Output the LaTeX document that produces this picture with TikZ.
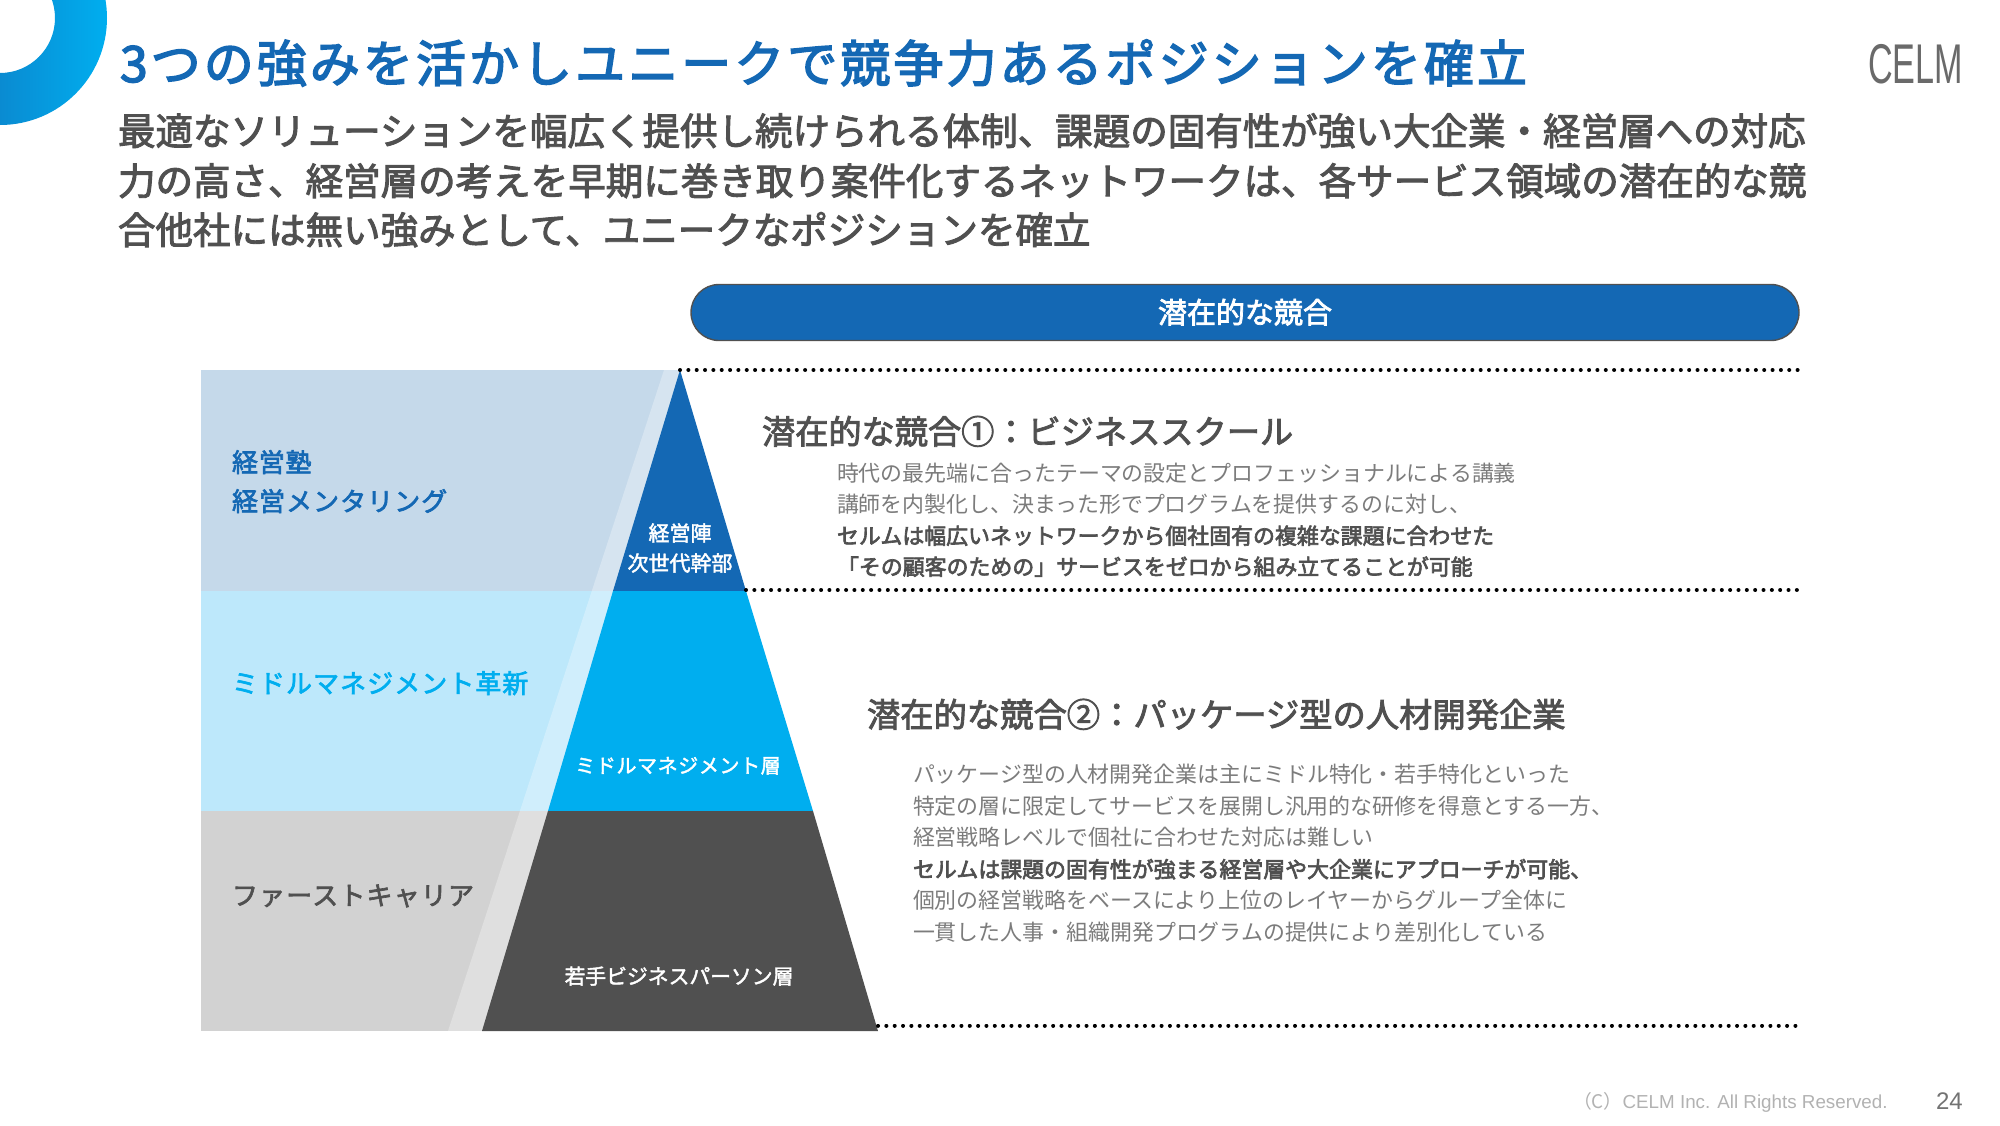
\documentclass[tikz,border=0pt]{standalone}
\usepackage{fontspec}
\setmainfont{Noto Sans CJK JP}
\newfontfamily\latinf{Liberation Sans}
\usetikzlibrary{shadings,calc}
\definecolor{cblue}{HTML}{1468B4}
\definecolor{ccyan}{HTML}{00AEEF}
\definecolor{cdark}{HTML}{505050}
\definecolor{cbandA}{HTML}{C5D9EA}
\definecolor{cbandB}{HTML}{BDE8FB}
\definecolor{cbandC}{HTML}{D2D2D2}
\definecolor{cbody}{HTML}{7C7C7C}
\newcommand{\fs}[1]{\fontsize{#1}{#1}\selectfont}
\tikzset{x=0.5pt,y=-0.5pt,
 txt/.style={inner sep=0pt,outer sep=0pt,anchor=base west,text depth=0pt},
 ctr/.style={inner sep=0pt,outer sep=0pt,anchor=base,align=center},
 dotline/.style={black,line width=2pt,dash pattern=on 0.01pt off 4.16pt,line cap=round}}
\begin{document}
\begin{tikzpicture}
\useasboundingbox (0,0) rectangle (2000,1125);
\fill[white] (0,0) rectangle (2000,1125);
% ring
\begin{scope}
\clip (0,0) rectangle (120,130);
\shade[even odd rule,left color=cblue,right color=ccyan]
 (0,18) circle[radius=53.5pt] (0,18) circle[radius=27.5pt];
\end{scope}
% bands
\fill[cbandA] (201,370) rectangle (680,591);
\fill[cbandB] (201,591) rectangle (680,811);
\fill[cbandC] (201,811) rectangle (680,1031);
% pale stripe
\fill[white,opacity=.3] (664,370) -- (680,370) -- (482,1031) -- (448,1031) -- cycle;
% pyramid
\coordinate (apex) at (680,370);
\fill[cblue] (apex) -- (746,591) -- (613,591) -- cycle;
\fill[ccyan] (613,591) -- (746,591) -- (813,811) -- (548,811) -- cycle;
\fill[cdark] (548,811) -- (813,811) -- (878,1031) -- (482,1031) -- cycle;
% dotted
\coordinate (d1a) at (680,370); \coordinate (d1b) at (1800,370);
\coordinate (d2a) at (746,590); \coordinate (d2b) at (1800,590);
\coordinate (d3a) at (878,1025.5); \coordinate (d3b) at (1802,1025.5);
\draw[dotline] (d1a) -- (d1b);
\draw[dotline] (d2a) -- (d2b);
\draw[dotline] (d3a) -- (d3b);
% pill
\node[draw=cdark,line width=.7pt,fill=cblue,rounded corners=14pt,minimum width=554pt,minimum height=28pt,inner sep=0pt,text=white] (pill) at (1245,312.5) {\raisebox{1.5pt}{\fs{14.5}\addfontfeature{FakeBold=2.5}潜在的な競合}};
% title
\node[txt,text=cblue] (title) at (120,82) {\fs{25}\addfontfeature{LetterSpace=6.1,FakeBold=3}3つの強みを活かしユニークで競争力あるポジションを確立};
\node[txt,text=cdark] (l1) at (118,145) {\fs{18.76}\addfontfeature{FakeBold=2.5}最適なソリューションを幅広く提供し続けられる体制、課題の固有性が強い大企業・経営層への対応};
\node[txt,text=cdark] (l2) at (118,195) {\fs{18.76}\addfontfeature{FakeBold=2.5}力の高さ、経営層の考えを早期に巻き取り案件化するネットワークは、各サービス領域の潜在的な競};
\node[txt,text=cdark] (l3) at (118,244) {\fs{18.76}\addfontfeature{FakeBold=2.5}合他社には無い強みとして、ユニークなポジションを確立};
% logo
\node[txt,text=cdark!85] (logo) at (1868,83) {\scalebox{0.61}[1]{\latinf\fs{28}CELM}};
% left labels
\node[txt,text=cblue] (a1) at (232,472) {\fs{13}\addfontfeature{LetterSpace=3,FakeBold=2.5}経営塾};
\node[txt,text=cblue] (a2) at (232,511) {\fs{13}\addfontfeature{LetterSpace=4,FakeBold=2.5}経営メンタリング};
\node[txt,text=ccyan] (b1) at (232,693) {\fs{13}\addfontfeature{LetterSpace=4,FakeBold=2.5}ミドルマネジメント革新};
\node[txt,text=cdark] (c1) at (232,905) {\fs{13}\addfontfeature{LetterSpace=4.5,FakeBold=2.5}ファーストキャリア};
% pyramid labels
\node[ctr,text=white] (p1) at (680,541) {\fs{10.5}\addfontfeature{FakeBold=2}経営陣};
\node[ctr,text=white] (p2) at (680,571) {\fs{10.5}\addfontfeature{FakeBold=2}次世代幹部};
\node[ctr,text=white] (p3) at (678,773) {\fs{10}\addfontfeature{LetterSpace=3,FakeBold=2}ミドルマネジメント層};
\node[ctr,text=white] (p4) at (679,984) {\fs{10.4}\addfontfeature{FakeBold=2}若手ビジネスパーソン層};
% section 1
\node[txt,text=cdark] (s1) at (762,444) {\fs{16.6}\addfontfeature{FakeBold=2.5}潜在的な競合①：ビジネススクール};
\node[txt,text=cbody] (s1a) at (837,481) {\fs{10.96}時代の最先端に合ったテーマの設定とプロフェッショナルによる講義};
\node[txt,text=cbody] (s1b) at (837,512.5) {\fs{10.96}講師を内製化し、決まった形でプログラムを提供するのに対し、};
\node[txt,text=cdark] (s1c) at (837,544) {\fs{10.96}\addfontfeature{FakeBold=3}セルムは幅広いネットワークから個社固有の複雑な課題に合わせた};
\node[txt,text=cdark] (s1d) at (837,575) {\fs{10.96}\addfontfeature{FakeBold=3}「その顧客のための」サービスをゼロから組み立てることが可能};
% section 2
\node[txt,text=cdark] (s2) at (867,727) {\fs{16.65}\addfontfeature{FakeBold=2.5}潜在的な競合②：パッケージ型の人材開発企業};
\node[txt,text=cbody] (s2a) at (913,782.5) {\fs{10.96}パッケージ型の人材開発企業は主にミドル特化・若手特化といった};
\node[txt,text=cbody] (s2b) at (913,814) {\fs{10.96}特定の層に限定してサービスを展開し汎用的な研修を得意とする一方、};
\node[txt,text=cbody] (s2c) at (913,845.5) {\fs{10.96}経営戦略レベルで個社に合わせた対応は難しい};
\node[txt,text=cdark] (s2d) at (913,877.5) {\fs{10.96}\addfontfeature{FakeBold=3}セルムは課題の固有性が強まる経営層や大企業にアプローチが可能、};
\node[txt,text=cbody] (s2e) at (913,908.5) {\fs{10.96}個別の経営戦略をベースにより上位のレイヤーからグループ全体に};
\node[txt,text=cbody] (s2f) at (913,940.5) {\fs{10.96}一貫した人事・組織開発プログラムの提供により差別化している};
% footer
\node[txt,text=black!30] (copy) at (1573,1108) {\fs{9.4}（C）{\latinf CELM Inc. All Rights Reserved.}};
\node[txt,text=black!55] (page) at (1936,1109) {\latinf\fs{12}24};
\end{tikzpicture}
\end{document}
